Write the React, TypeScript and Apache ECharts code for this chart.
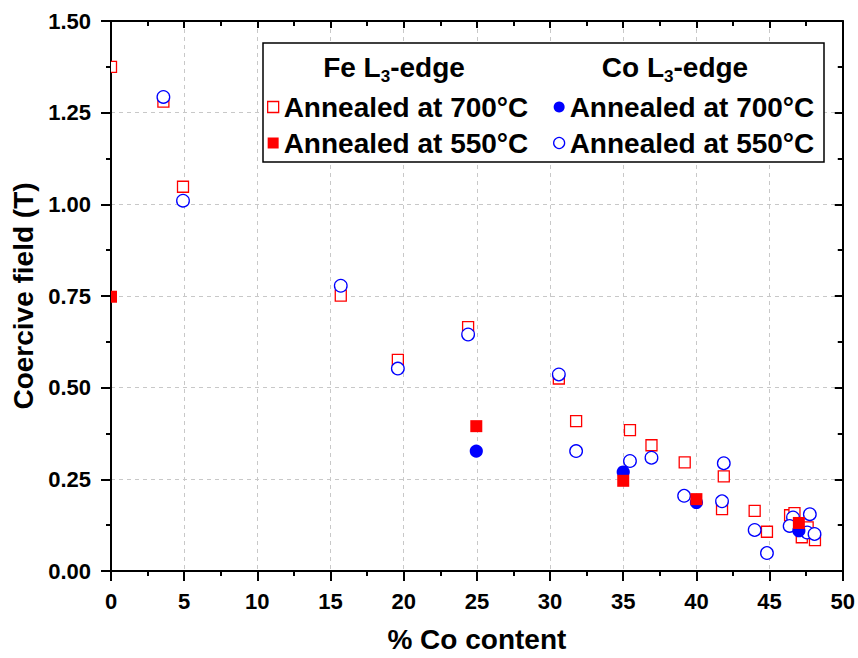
import React, { useEffect, useRef } from 'react';
import * as echarts from 'echarts';

const FONT = '"Liberation Sans", Arial, Helvetica, sans-serif';

// Fe L3-edge, annealed at 700°C (open red squares)
const feAnnealed700: [number, number][] = [
  [0, 1.375], [3.58, 1.28], [4.92, 1.048], [15.7, 0.751], [19.6, 0.576],
  [24.4, 0.665], [30.6, 0.525], [31.78, 0.409], [35.46, 0.384], [36.93, 0.343],
  [39.2, 0.296], [41.87, 0.258], [41.75, 0.169], [43.98, 0.164], [44.82, 0.107],
  [46.4, 0.152], [46.7, 0.158], [47.6, 0.119], [47.2, 0.092], [48.1, 0.084],
];
// Fe L3-edge, annealed at 550°C (filled red squares)
const feAnnealed550: [number, number][] = [
  [0, 0.748], [24.96, 0.395], [35.0, 0.246], [40.0, 0.196], [47.0, 0.131],
];
// Co L3-edge, annealed at 700°C (filled blue circles)
const coAnnealed700: [number, number][] = [
  [24.96, 0.327], [35.0, 0.27], [40.0, 0.187], [47.0, 0.11],
];
// Co L3-edge, annealed at 550°C (open blue circles)
const coAnnealed550: [number, number][] = [
  [3.58, 1.293], [4.92, 1.01], [15.7, 0.778], [19.6, 0.552], [24.4, 0.645],
  [30.6, 0.536], [31.78, 0.327], [35.46, 0.3], [36.93, 0.309], [39.16, 0.205],
  [41.87, 0.294], [41.75, 0.19], [43.98, 0.112], [44.82, 0.049], [46.6, 0.146],
  [47.75, 0.155], [46.37, 0.123], [47.57, 0.105], [48.07, 0.101],
];

const legendLabels: Record<string, string> = {
  'Fe 700': 'Annealed at 700°C',
  'Fe 550': 'Annealed at 550°C',
  'Co 700': 'Annealed at 700°C',
  'Co 550': 'Annealed at 550°C',
};

const RED = '#ff0000';
const BLUE = '#0000ff';

function markSeries(name: string, data: [number, number][], kind: 'square' | 'circle', color: string, filled: boolean) {
  return {
    type: 'custom',
    name,
    data,
    clip: true,
    encode: { x: 0, y: 1 },
    itemStyle: { color },
    renderItem: (params: any, api: any) => {
      const p = api.coord([api.value(0), api.value(1)]);
      const style = filled
        ? { fill: color, stroke: color, lineWidth: 0 }
        : { fill: '#ffffff', stroke: color, lineWidth: 1.3 };
      if (kind === 'square') {
        const s = filled ? 12 : 11;
        return { type: 'rect', shape: { x: p[0] - s / 2, y: p[1] - s / 2, width: s, height: s }, style };
      }
      const r = filled ? 6.6 : 6.3;
      return { type: 'circle', shape: { cx: p[0], cy: p[1], r }, style };
    },
  };
}

const axisLine = { show: true, onZero: false, lineStyle: { color: '#000', width: 2 } };
const labelStyle = { fontSize: 22, fontWeight: 'bold', color: '#000', fontFamily: FONT };
const nameStyle = { fontSize: 28, fontWeight: 'bold', color: '#000', fontFamily: FONT };
const splitLine = { show: true, lineStyle: { color: '#c8c8c8', type: [4, 4], width: 1 } };

export default function App() {
  const ref = useRef<HTMLDivElement>(null);
  useEffect(() => {
    if (!ref.current) return;
    const chart = echarts.init(ref.current, null, { renderer: 'svg' });
    const headerRich = {
      b: { fontSize: 28, fontWeight: 'bold', fontFamily: FONT, fill: '#000', verticalAlign: 'middle' },
      s: { fontSize: 17, fontWeight: 'bold', fontFamily: FONT, fill: '#000', padding: [18, 0, 0, 0], verticalAlign: 'middle' },
    };
    chart.setOption({
      animation: false,
      backgroundColor: '#ffffff',
      grid: { left: 111, right: 13, top: 21, bottom: 86 },
      xAxis: [
        {
          type: 'value', min: 0, max: 50, interval: 5, position: 'bottom',
          axisLine,
          axisTick: { show: true, inside: false, length: 10, lineStyle: { color: '#000', width: 2 } },
          minorTick: { show: true, splitNumber: 2, length: 5, lineStyle: { color: '#000', width: 2 } },
          axisLabel: { ...labelStyle, margin: 19 },
          splitLine,
          name: '% Co content', nameLocation: 'middle', nameGap: 54, nameTextStyle: nameStyle,
        },
        {
          type: 'value', min: 0, max: 50, interval: 5, position: 'top',
          axisLine,
          axisTick: { show: true, inside: true, length: 7, lineStyle: { color: '#000', width: 2 } },
          minorTick: { show: true, splitNumber: 2, length: 5, lineStyle: { color: '#000', width: 2 } },
          axisLabel: { show: false },
          splitLine: { show: false },
        },
      ],
      yAxis: [
        {
          type: 'value', min: 0, max: 1.5, interval: 0.25, position: 'left',
          axisLine,
          axisTick: { show: true, inside: false, length: 10, lineStyle: { color: '#000', width: 2 } },
          minorTick: { show: true, splitNumber: 2, length: 5, lineStyle: { color: '#000', width: 2 } },
          axisLabel: { ...labelStyle, margin: 20, formatter: (v: number) => v.toFixed(2) },
          splitLine,
          name: 'Coercive field (T)', nameLocation: 'middle', nameGap: 70, nameTextStyle: nameStyle,
        },
        {
          type: 'value', min: 0, max: 1.5, interval: 0.25, position: 'right',
          axisLine,
          axisTick: { show: true, inside: true, length: 8, lineStyle: { color: '#000', width: 2 } },
          minorTick: { show: true, splitNumber: 2, length: 5, lineStyle: { color: '#000', width: 2 } },
          axisLabel: { show: false },
          splitLine: { show: false },
        },
      ],
      legend: [
        {
          z: 20, selectedMode: false, orient: 'vertical', left: 267, top: 93, padding: 0,
          itemWidth: 11, itemHeight: 11, itemGap: 8,
          formatter: (n: string) => legendLabels[n],
          textStyle: { fontSize: 28, fontWeight: 'bold', color: '#000', fontFamily: FONT },
          data: [
            { name: 'Fe 700', icon: 'rect', itemStyle: { color: '#ffffff', borderColor: RED, borderWidth: 1.3 } },
            { name: 'Fe 550', icon: 'rect', itemStyle: { color: RED, borderWidth: 0 } },
          ],
        },
        {
          z: 20, selectedMode: false, orient: 'vertical', left: 553, top: 93, padding: 0,
          itemWidth: 11, itemHeight: 11, itemGap: 8,
          formatter: (n: string) => legendLabels[n],
          textStyle: { fontSize: 28, fontWeight: 'bold', color: '#000', fontFamily: FONT },
          data: [
            { name: 'Co 700', icon: 'circle', itemStyle: { color: BLUE, borderWidth: 0 } },
            { name: 'Co 550', icon: 'circle', itemStyle: { color: '#ffffff', borderColor: BLUE, borderWidth: 1.3 } },
          ],
        },
      ],
      graphic: [
        {
          type: 'rect', z: 10, shape: { x: 263, y: 43, width: 561, height: 119 },
          style: { fill: '#ffffff', stroke: '#000', lineWidth: 1.5 },
        },
        {
          type: 'text', z: 21, x: 394, y: 67,
          style: { text: '{b|Fe L}{s|3}{b|-edge}', rich: headerRich, align: 'center', verticalAlign: 'middle' },
        },
        {
          type: 'text', z: 21, x: 675, y: 67,
          style: { text: '{b|Co L}{s|3}{b|-edge}', rich: headerRich, align: 'center', verticalAlign: 'middle' },
        },
      ],
      series: [
        markSeries('Fe 700', feAnnealed700, 'square', RED, false),
        markSeries('Co 550', coAnnealed550, 'circle', BLUE, false),
        markSeries('Co 700', coAnnealed700, 'circle', BLUE, true),
        markSeries('Fe 550', feAnnealed550, 'square', RED, true),
      ],
    });
    return () => chart.dispose();
  }, []);
  return <div ref={ref} style={{ width: 858, height: 658, position: 'absolute', left: 0, top: 0 }} />;
}
